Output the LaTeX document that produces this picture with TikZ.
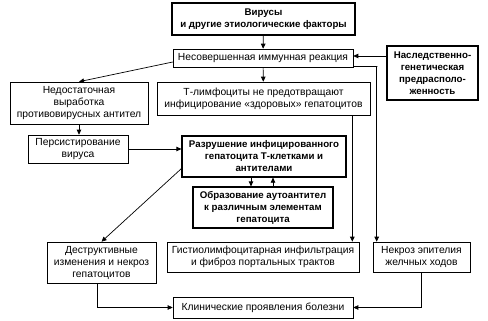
\documentclass[tikz,border=0pt]{standalone}
\usepackage{fontspec}
\setmainfont{Liberation Sans}
\usetikzlibrary{arrows.meta}

\begin{document}
\begin{tikzpicture}[x=1pt, y=-1pt, >={Triangle[length=5pt,width=4.5pt]},
    box/.style={draw, line width=0.6pt, align=center, inner sep=0pt,
        font=\fontsize{10.3}{12}\selectfont},
    boldbox/.style={box, line width=1.2pt, font=\fontsize{9.7}{12}\selectfont\bfseries},
    arr/.style={->, line width=0.7pt}]
    \useasboundingbox (0,0) rectangle (488,321);
    \node[boldbox, minimum width=183pt, minimum height=32pt] (vir) at (263.5,19)
        {Вирусы\\и другие этиологические факторы};
    \node[box, minimum width=180pt, minimum height=18pt] (imm) at (263,58)
        {Несовершенная иммунная реакция};
    \node[boldbox, minimum width=91pt, minimum height=54pt] (her) at (432.5,73)
        {Наследственно-\\генетическая\\предрасполо-\\женность};
    \node[box, minimum width=138pt, minimum height=42pt] (ned) at (79,103)
        {Недостаточная\\выработка\\противовирусных антител};
    \node[box, minimum width=213pt, minimum height=33pt] (tly) at (263.5,98.5)
        {Т-лимфоциты не предотвращают\\инфицирование «здоровых» гепатоцитов};
    \node[box, minimum width=100pt, minimum height=28pt] (per) at (78,149)
        {Персистирование\\вируса};
    \node[boldbox, minimum width=164pt, minimum height=41pt] (raz) at (264,156.5)
        {Разрушение инфицированного\\гепатоцита Т-клетками и\\антителами};
    \node[boldbox, minimum width=140pt, minimum height=41pt] (obr) at (263,207.5)
        {Образование аутоантител\\к различным элементам\\гепатоцита};
    \node[box, minimum width=109pt, minimum height=41pt] (des) at (101.5,262.5)
        {Деструктивные\\изменения и некроз\\гепатоцитов};
    \node[box, minimum width=192pt, minimum height=30pt] (gis) at (263,257)
        {Гистиолимфоцитарная инфильтрация\\и фиброз портальных трактов};
    \node[box, minimum width=97pt, minimum height=30pt] (nek) at (421.5,257)
        {Некроз эпителия\\желчных ходов};
    \node[box, minimum width=180pt, minimum height=21pt] (kli) at (263,307.5)
        {Клинические проявления болезни};

    \draw[arr] (vir) -- (imm);
    \draw[arr] (her.west |- 0,56) -- (imm.east |- 0,56);
    \draw[arr] ([yshift=-4pt]imm.west) -- (ned.north);
    \draw[arr] (imm) -- (tly);
    \draw[arr] ([yshift=1pt]imm.south east) -- ++(24,0) -| ([xshift=4pt]nek.north west);
    \draw[arr] (ned.south) -- (ned.south |- per.north);
    \draw[arr] (per.east) -- (per.east -| raz.west);
    \draw[arr] ([xshift=-18pt]tly.south east) -- ([xshift=-18pt]tly.south east |- gis.north);
    \draw[arr] ([xshift=-13pt]raz.south) -- ([xshift=-13pt]raz.south |- obr.north);
    \draw[arr] ([xshift=10pt]obr.north) -- ([xshift=10pt]obr.north |- raz.south);
    \draw[arr] ([yshift=9pt]raz.south west) -- (des.north);
    \draw[arr] ([xshift=-4pt]des.south) |- (kli.west);
    \draw[arr] (nek.south) |- (kli.east);
\end{tikzpicture}
\end{document}
